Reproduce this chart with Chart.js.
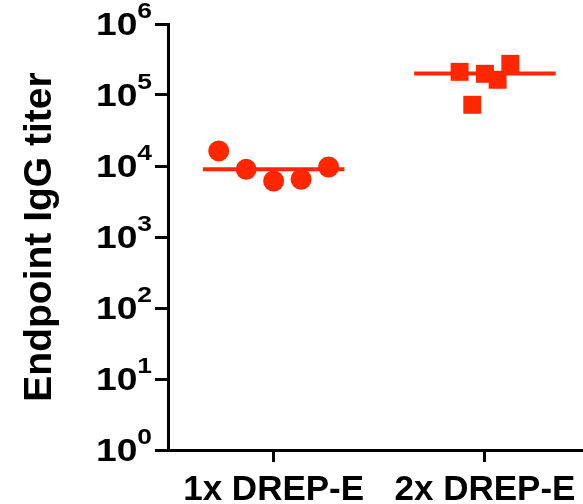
<!DOCTYPE html>
<html>
<head>
<meta charset="utf-8">
<script src="https://cdn.jsdelivr.net/npm/chart.js@4/dist/chart.umd.min.js"></script>
<style>
  html, body { margin: 0; padding: 0; background: #fff; }
  #wrap { width: 583px; height: 504px; }
</style>
</head>
<body>
<div id="wrap"><canvas id="c" width="583" height="504"></canvas></div>
<script>
// ---- data ----
const categories = ['1x DREP-E', '2x DREP-E'];
const group1Values = [16300, 8980, 6150, 6500, 9680];      // circles
const group1Offsets = [-0.26, -0.13, 0, 0.13, 0.26];
const group2Values = [212000, 72800, 199000, 164000, 275000]; // squares
const group2Offsets = [-0.12, -0.06, 0, 0.06, 0.12];
const medians = [8980, 201000];
const yTicks = [1, 10, 100, 1000, 10000, 100000, 1000000];
const yTickExponents = ['0', '1', '2', '3', '4', '5', '6'];
const yTitle = 'Endpoint IgG titer';

const RED = '#ff2600';
const FONT = "'Liberation Sans', Arial, sans-serif";
const medianHalf = 0.335;

function pts(cat, vals, offs) {
  return vals.map((v, i) => ({ x: cat + offs[i], y: v }));
}
function medLine(cat, m) {
  return [{ x: cat - medianHalf, y: m }, { x: cat + medianHalf, y: m }];
}

const yLabelPlugin = {
  id: 'yLabels',
  afterDraw(chart) {
    const ys = chart.scales.y;
    const ctx = chart.ctx;
    const sx = 1.2;
    const right = 152;
    ctx.save();
    ctx.fillStyle = '#000';
    ctx.textBaseline = 'alphabetic';
    ctx.textAlign = 'left';
    yTicks.forEach((v, i) => {
      const py = ys.getPixelForValue(v);
      const exp = yTickExponents[i];
      ctx.font = 'bold 22px ' + FONT;
      const ew = ctx.measureText(exp).width * sx;
      ctx.font = 'bold 31px ' + FONT;
      const bw = ctx.measureText('10').width * sx;
      const expX = right - ew;
      const baseX = expX - bw;
      ctx.save();
      ctx.translate(baseX, py + 11);
      ctx.scale(sx, 1);
      ctx.font = 'bold 31px ' + FONT;
      ctx.fillText('10', 0, 0);
      ctx.restore();
      ctx.save();
      ctx.translate(expX, py - 6);
      ctx.scale(sx, 1);
      ctx.font = 'bold 22px ' + FONT;
      ctx.fillText(exp, 0, 0);
      ctx.restore();
    });
    ctx.restore();
  }
};

new Chart(document.getElementById('c'), {
  type: 'scatter',
  data: {
    datasets: [
      { type: 'line', data: medLine(1, medians[0]), borderColor: RED, borderWidth: 4, pointRadius: 0, fill: false },
      { type: 'line', data: medLine(2, medians[1]), borderColor: RED, borderWidth: 4, pointRadius: 0, fill: false },
      { data: pts(1, group1Values, group1Offsets), pointStyle: 'circle', pointRadius: 10.5,
        backgroundColor: RED, borderColor: RED, borderWidth: 0, pointHoverRadius: 10.5 },
      { data: pts(2, group2Values, group2Offsets), pointStyle: 'rect', pointRadius: 12.7,
        backgroundColor: RED, borderColor: RED, borderWidth: 0, pointHoverRadius: 12.7 }
    ]
  },
  options: {
    responsive: false,
    animation: false,
    events: [],
    clip: false,
    layout: { autoPadding: false, padding: { top: 24, left: 0, right: 0, bottom: 0 } },
    plugins: { legend: { display: false }, tooltip: { enabled: false } },
    scales: {
      x: {
        type: 'linear',
        min: 0.5,
        max: 2.464,
        afterBuildTicks: s => { s.ticks = categories.map((c, i) => ({ value: i + 1 })); },
        afterFit: s => { s.height = 54; s.paddingLeft = 0; s.paddingRight = 0; },
        border: { display: true, color: '#000', width: 3 },
        grid: { drawOnChartArea: false, drawTicks: true, tickLength: 12, tickWidth: 3, tickColor: '#000' },
        ticks: {
          autoSkip: false, maxRotation: 0, minRotation: 0, padding: 7,
          color: '#000',
          font: { family: FONT, size: 35, weight: 'bold' },
          callback: (v) => categories[Math.round(v) - 1]
        }
      },
      y: {
        type: 'logarithmic',
        min: 1,
        max: 1000000,
        afterBuildTicks: s => { s.ticks = yTicks.map(v => ({ value: v })); },
        afterFit: s => { s.width = 168; s.paddingTop = 0; s.paddingBottom = 0; },
        border: { display: true, color: '#000', width: 3 },
        grid: { drawOnChartArea: false, drawTicks: true, tickLength: 13, tickWidth: 3, tickColor: '#000' },
        ticks: { display: false },
        title: {
          display: true,
          text: yTitle,
          color: '#000',
          font: { family: FONT, size: 39, weight: 'bold' },
          padding: { top: 17, bottom: 0 }
        }
      }
    }
  },
  plugins: [yLabelPlugin]
});
</script>
</body>
</html>
